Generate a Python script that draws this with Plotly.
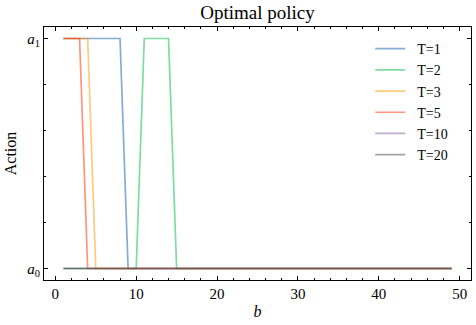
import plotly.graph_objects as go

# budget levels
b = list(range(1, 50))

# optimal action per horizon (0 -> a0, 1 -> a1)
t1 = [1, 1, 1, 1, 1, 1, 1, 1, 0, 0,
      0, 0, 0, 0, 0, 0, 0, 0, 0, 0,
      0, 0, 0, 0, 0, 0, 0, 0, 0, 0,
      0, 0, 0, 0, 0, 0, 0, 0, 0, 0,
      0, 0, 0, 0, 0, 0, 0, 0, 0]
t2 = [0, 0, 0, 0, 0, 0, 0, 0, 0, 0,
      1, 1, 1, 1, 0, 0, 0, 0, 0, 0,
      0, 0, 0, 0, 0, 0, 0, 0, 0, 0,
      0, 0, 0, 0, 0, 0, 0, 0, 0, 0,
      0, 0, 0, 0, 0, 0, 0, 0, 0]
t3 = [1, 1, 1, 1, 0, 0, 0, 0, 0, 0,
      0, 0, 0, 0, 0, 0, 0, 0, 0, 0,
      0, 0, 0, 0, 0, 0, 0, 0, 0, 0,
      0, 0, 0, 0, 0, 0, 0, 0, 0, 0,
      0, 0, 0, 0, 0, 0, 0, 0, 0]
t5 = [1, 1, 1, 0, 0, 0, 0, 0, 0, 0,
      0, 0, 0, 0, 0, 0, 0, 0, 0, 0,
      0, 0, 0, 0, 0, 0, 0, 0, 0, 0,
      0, 0, 0, 0, 0, 0, 0, 0, 0, 0,
      0, 0, 0, 0, 0, 0, 0, 0, 0]
t10 = [0, 0, 0, 0, 0, 0, 0, 0, 0, 0,
       0, 0, 0, 0, 0, 0, 0, 0, 0, 0,
       0, 0, 0, 0, 0, 0, 0, 0, 0, 0,
       0, 0, 0, 0, 0, 0, 0, 0, 0, 0,
       0, 0, 0, 0, 0, 0, 0, 0, 0]
t20 = [0, 0, 0, 0, 0, 0, 0, 0, 0, 0,
       0, 0, 0, 0, 0, 0, 0, 0, 0, 0,
       0, 0, 0, 0, 0, 0, 0, 0, 0, 0,
       0, 0, 0, 0, 0, 0, 0, 0, 0, 0,
       0, 0, 0, 0, 0, 0, 0, 0, 0]

names = ["T=1", "T=2", "T=3", "T=5", "T=10", "T=20"]
series = [t1, t2, t3, t5, t10, t20]
colors = ["#0C5DA5", "#00B945", "#FF9500", "#FF2C00", "#845B97", "#474747"]

action_vals = [0, 1]
action_labels = ["<i>a</i><sub>0</sub>", "<i>a</i><sub>1</sub>"]

FONT = "Liberation Serif"

fig = go.Figure()
for name, ys, c in zip(names, series, colors):
    # small non-breaking pad to widen the gap between legend line and label
    fig.add_trace(go.Scatter(x=b, y=ys, mode="lines", name="\u00a0\u00a0" + name,
                             line=dict(color=c, width=1.7), opacity=0.5))

axis_common = dict(showline=True, linecolor="black", linewidth=1, mirror="ticks",
                   ticks="inside", ticklen=4, tickcolor="black", tickwidth=1,
                   showgrid=False, zeroline=False,
                   tickfont=dict(family=FONT, size=15, color="black"))

fig.update_layout(
    width=476, height=325,
    margin=dict(l=44, r=5, t=27, b=45, autoexpand=False),
    plot_bgcolor="white", paper_bgcolor="white",
    font=dict(family=FONT, size=15, color="black"),
    title=dict(text="Optimal policy", x=0.5, xref="paper", y=1 - 12 / 325,
               yanchor="middle", font=dict(family=FONT, size=19, color="black")),
    xaxis=dict(range=[-1.4, 51.4], tickvals=[0, 10, 20, 30, 40, 50],
               minor=dict(dtick=2, tick0=0, ticks="inside", ticklen=2, tickcolor="black"),
               title=dict(text="<i>b</i>", font=dict(family=FONT, size=16), standoff=4),
               **axis_common),
    yaxis=dict(range=[-0.05, 1.05], tickvals=action_vals, ticktext=action_labels,
               minor=dict(dtick=0.2, tick0=0, ticks="inside", ticklen=2, tickcolor="black"),
               title=dict(text="Action", font=dict(family=FONT, size=16), standoff=6),
               **axis_common),
    legend=dict(x=0.764, y=0.976, xanchor="left", yanchor="top", bgcolor="rgba(0,0,0,0)",
                font=dict(family=FONT, size=14), itemwidth=30),
)

fig.write_html("out.html", config={"displayModeBar": False},
               post_script="document.body.style.margin='0';")
